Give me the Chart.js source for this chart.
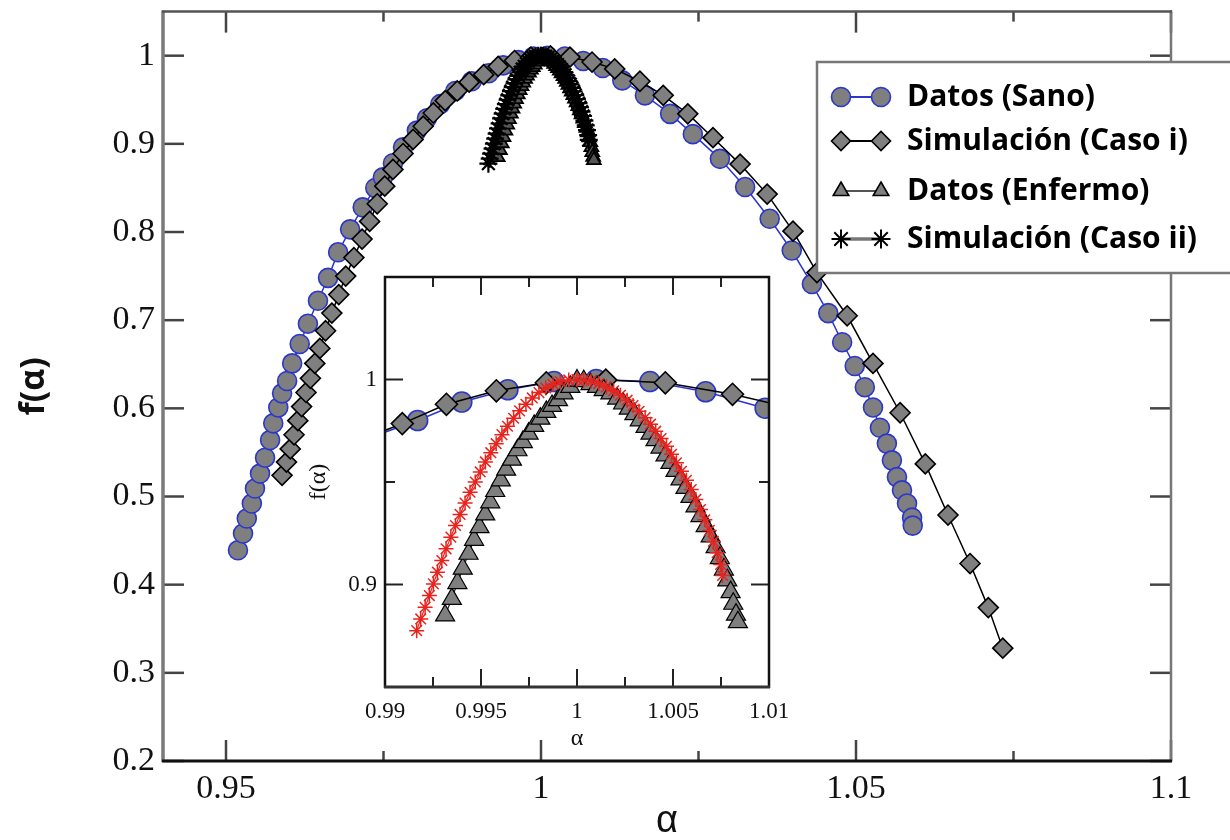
<!DOCTYPE html>
<html><head><meta charset="utf-8">
<script src="https://cdn.jsdelivr.net/npm/chart.js@4.4.1/dist/chart.umd.min.js"></script>
<style>
html,body{margin:0;padding:0;background:#fff;}
#wrap{position:relative;width:1230px;height:840px;overflow:hidden;background:#fff;}
#main{position:absolute;left:0;top:0;}
#inset{position:absolute;left:290px;top:255px;}
</style></head><body>
<div id="wrap"><canvas id="main" width="1230" height="840"></canvas><canvas id="inset" width="500" height="510"></canvas></div>
<script>
// ---- data ----
const seriesLabels = ['Datos (Sano)', 'Simulación (Caso i)', 'Datos (Enfermo)', 'Simulación (Caso ii)'];

const sanoAlpha = [0.9519,0.9527,0.9533,0.9541,0.9546,0.9554,0.9562,0.9570,0.9575,0.9583,0.9589,0.9597,0.9605,0.9617,0.9630,0.9646,0.9662,0.9678,0.9697,0.9717,0.9737,0.9749,0.9765,0.9781,0.9803,0.9819,0.9840,0.9864,0.9890,0.9917,0.9940,0.9964,0.9988,1.0010,1.0038,1.0067,1.0098,1.0129,1.0165,1.0205,1.0241,1.0284,1.0324,1.0363,1.0398,1.0430,1.0456,1.0478,1.0498,1.0514,1.0527,1.0538,1.0549,1.0557,1.0565,1.0573,1.0581,1.0589,1.0590];
const sanoF = [0.439,0.458,0.475,0.492,0.509,0.526,0.544,0.564,0.583,0.601,0.617,0.631,0.651,0.673,0.696,0.722,0.748,0.777,0.803,0.828,0.850,0.862,0.878,0.896,0.915,0.929,0.945,0.960,0.971,0.980,0.989,0.995,0.999,1.000,0.999,0.994,0.986,0.972,0.955,0.934,0.911,0.883,0.851,0.815,0.779,0.741,0.708,0.675,0.648,0.624,0.601,0.578,0.560,0.541,0.522,0.507,0.492,0.476,0.467];

const casoIAlpha = [0.9589,0.9596,0.9602,0.9608,0.9614,0.9620,0.9627,0.9634,0.9641,0.9649,0.9658,0.9668,0.9679,0.9690,0.9703,0.9716,0.9728,0.9740,0.9752,0.9765,0.9781,0.9797,0.9813,0.9829,0.9848,0.9867,0.9886,0.9909,0.9932,0.9958,0.9984,1.0015,1.0046,1.0081,1.0117,1.0157,1.0194,1.0233,1.0273,1.0316,1.0359,1.0400,1.0438,1.0486,1.0527,1.0570,1.0610,1.0646,1.0681,1.0710,1.0733];
const casoIF = [0.524,0.539,0.554,0.570,0.586,0.602,0.618,0.634,0.651,0.668,0.688,0.708,0.729,0.750,0.771,0.792,0.812,0.832,0.852,0.871,0.889,0.905,0.920,0.935,0.949,0.960,0.970,0.9785,0.9879,0.9945,0.9984,0.9997,0.9984,0.9928,0.985,0.971,0.955,0.934,0.907,0.877,0.843,0.801,0.754,0.705,0.651,0.595,0.537,0.479,0.424,0.374,0.328];

const enfermoAlpha = [0.99313,0.99348,0.99377,0.99405,0.99435,0.99464,0.99492,0.99522,0.99548,0.99574,0.99603,0.99631,0.99661,0.99690,0.99718,0.99748,0.99777,0.99809,0.99840,0.99870,0.99901,0.99930,0.99965,1.00000,1.00035,1.00070,1.00104,1.00139,1.00174,1.00209,1.00240,1.00270,1.00299,1.00327,1.00357,1.00383,1.00409,1.00435,1.00461,1.00487,1.00513,1.00539,1.00565,1.00591,1.00617,1.00643,1.00670,1.00696,1.00722,1.00744,1.00765,1.00783,1.00800,1.00814,1.00828,1.00838];
const enfermoF = [0.8849,0.8930,0.9007,0.9077,0.9150,0.9218,0.9280,0.9342,0.9401,0.9456,0.9508,0.9560,0.9609,0.9655,0.9695,0.9736,0.9774,0.9809,0.9842,0.9871,0.9899,0.9932,0.9964,0.9995,0.9992,0.9977,0.9964,0.9948,0.9932,0.9907,0.9883,0.9858,0.9831,0.9801,0.9769,0.9736,0.9704,0.9668,0.9630,0.9593,0.9554,0.9513,0.9471,0.9427,0.9381,0.9334,0.9285,0.9235,0.9182,0.9129,0.9073,0.9020,0.8963,0.8906,0.8853,0.8816];

const casoIIAlpha = [0.99165,0.99186,0.99209,0.99231,0.99252,0.99273,0.99296,0.99318,0.99343,0.99367,0.99391,0.99417,0.99443,0.99470,0.99496,0.99523,0.99551,0.99579,0.99609,0.99638,0.99670,0.99701,0.99734,0.99767,0.99802,0.99837,0.99875,0.99913,0.99957,1.00000,1.00035,1.00073,1.00113,1.00153,1.00191,1.00226,1.00261,1.00292,1.00323,1.00355,1.00383,1.00410,1.00438,1.00466,1.00492,1.00518,1.00544,1.00570,1.00595,1.00619,1.00643,1.00666,1.00689,1.00710,1.00730,1.00748,1.00758];
const casoIIF = [0.8775,0.8832,0.8889,0.8946,0.9003,0.9060,0.9117,0.9174,0.9231,0.9288,0.9342,0.9397,0.9450,0.9500,0.9549,0.9598,0.9643,0.9687,0.9731,0.9772,0.9811,0.9847,0.9879,0.9910,0.9936,0.9959,0.9977,0.9990,0.9998,1.0000,0.9997,0.9993,0.9980,0.9964,0.9945,0.9923,0.9899,0.9873,0.9845,0.9814,0.9782,0.9748,0.9712,0.9674,0.9635,0.9594,0.9552,0.9508,0.9463,0.9415,0.9366,0.9316,0.9264,0.9210,0.9155,0.9098,0.9044];

// tick labels
const mainXTicks = [0.95, 1, 1.05, 1.1];
const mainXMinor = [0.975, 1.025, 1.075];
const mainYTicks = [0.2, 0.3, 0.4, 0.5, 0.6, 0.7, 0.8, 0.9, 1];
const insetXTicks = [0.99, 0.995, 1, 1.005, 1.01];
const insetXMinor = [0.9925, 0.9975, 1.0025, 1.0075];
const insetYTicks = [0.9, 1];
const insetYMinor = [0.95];

// ---- styling ----
const GRAY = '#7f7f7f', BLUE = '#2b36cc', RED = '#e8231d';
function pts(a, f) { return a.map((v, i) => ({ x: v, y: f[i] })); }
const fmt = v => String(+Number(v).toFixed(4));

function datasets(inset) {
  return [
    { label: seriesLabels[0], data: pts(sanoAlpha, sanoF), showLine: true, order: 4,
      pointStyle: 'circle', pointRadius: inset ? 10 : 9.5, pointBackgroundColor: GRAY, pointBorderColor: BLUE,
      pointBorderWidth: 1.6, borderColor: BLUE, borderWidth: 1.5, backgroundColor: GRAY },
    { label: seriesLabels[1], data: pts(casoIAlpha, casoIF), showLine: true, order: 3,
      pointStyle: 'rectRot', pointRadius: inset ? 11 : 10, pointBackgroundColor: GRAY, pointBorderColor: '#000',
      pointBorderWidth: 1.6, borderColor: '#000', borderWidth: 1.5, backgroundColor: GRAY },
    { label: seriesLabels[2], data: pts(enfermoAlpha, enfermoF), showLine: true, order: 2,
      pointStyle: 'triangle', pointRadius: inset ? 11 : 8, pointBackgroundColor: inset ? GRAY : '#555', pointBorderColor: '#000',
      pointBorderWidth: inset ? 1.2 : 1.8, borderColor: '#222', borderWidth: 1.2, backgroundColor: GRAY },
    { label: seriesLabels[3], data: pts(casoIIAlpha, casoIIF), showLine: true, order: 1,
      pointStyle: 'star', pointRadius: inset ? 7.5 : 9, pointBackgroundColor: inset ? RED : '#000',
      pointBorderColor: inset ? RED : '#000', pointBorderWidth: inset ? 1.5 : 2.2, borderColor: inset ? RED : '#000',
      borderWidth: 1.2, backgroundColor: inset ? RED : '#000' }
  ];
}

function framePlugin(o) {
  return {
    id: 'frame_' + o.name,
    beforeDatasetsDraw(chart) {
      if (!o.fillArea) return;
      const { ctx, chartArea: a } = chart;
      ctx.save(); ctx.fillStyle = '#fff'; ctx.fillRect(a.left, a.top, a.right - a.left, a.bottom - a.top); ctx.restore();
    },
    afterDatasetsDraw(chart) {
      const { ctx, chartArea: a, scales: { x, y } } = chart;
      ctx.save();
      const line = (x1, y1, x2, y2, c, w) => { ctx.strokeStyle = c; ctx.lineWidth = w; ctx.beginPath(); ctx.moveTo(x1, y1); ctx.lineTo(x2, y2); ctx.stroke(); };
      o.xMajor.forEach(v => { const p = x.getPixelForValue(v); line(p, a.bottom, p, a.bottom - o.maj, o.tickColor, o.tickW); line(p, a.top, p, a.top + o.maj, o.tickColor, o.tickW); });
      o.xMinor.forEach(v => { const p = x.getPixelForValue(v); line(p, a.bottom, p, a.bottom - o.min, o.tickColor, o.tickW); line(p, a.top, p, a.top + o.min, o.tickColor, o.tickW); });
      o.yMajor.forEach(v => { const p = y.getPixelForValue(v); line(a.left, p, a.left + o.maj, p, o.tickColor, o.tickW); line(a.right, p, a.right - o.maj, p, o.tickColor, o.tickW); });
      o.yMinor.forEach(v => { const p = y.getPixelForValue(v); line(a.left, p, a.left + o.min, p, o.tickColor, o.tickW); line(a.right, p, a.right - o.min, p, o.tickColor, o.tickW); });
      line(a.left, a.top - 1, a.left, a.bottom + 1, o.leftC, o.leftW);
      line(a.right, a.top - 1, a.right, a.bottom + 1, o.rightC, o.rightW);
      line(a.left - 1, a.top, a.right + 1, a.top, o.topC, o.topW);
      line(a.left - 1, a.bottom, a.right + 1, a.bottom, o.botC, o.botW);
      ctx.restore();
    }
  };
}

const legendPlugin = {
  id: 'boxLegend',
  afterDraw(chart) {
    const ctx = chart.ctx;
    const bx = 817, by = 62, bw = 420, bh = 211;
    ctx.save();
    ctx.fillStyle = '#fff'; ctx.fillRect(bx, by, bw, bh);
    ctx.strokeStyle = '#777'; ctx.lineWidth = 2.5; ctx.strokeRect(bx, by, bw, bh);
    const rows = [97, 141, 191, 239];
    const ds = chart.data.datasets;
    const lineColors = [BLUE, '#000', '#555', '#777'];
    const lineWidths = [2, 2, 2, 3.5];
    const fills = [GRAY, GRAY, GRAY, '#000'];
    rows.forEach((ry, i) => {
      const d = ds[i];
      ctx.strokeStyle = lineColors[i]; ctx.lineWidth = lineWidths[i];
      ctx.beginPath(); ctx.moveTo(841, ry); ctx.lineTo(881, ry); ctx.stroke();
      [841, 881].forEach(px => {
        ctx.fillStyle = fills[i]; ctx.strokeStyle = d.pointBorderColor; ctx.lineWidth = i === 3 ? 2 : 1.6;
        Chart.helpers.drawPoint(ctx, { pointStyle: d.pointStyle, radius: i === 2 ? 9 : 9.5, rotation: 0, borderWidth: 1.6 }, px, ry);
      });
      ctx.fillStyle = '#000';
      ctx.font = 'bold 30px "Open Sans"';
      ctx.textBaseline = 'middle';
      ctx.fillText(d.label, 907, ry);
    });
    ctx.restore();
  }
};

function baseOpts(o) {
  return {
    responsive: false, animation: false, events: [],
    layout: { padding: o.padding },
    plugins: { legend: { display: false }, tooltip: { enabled: false } },
    scales: {
      x: { type: 'linear', min: o.xmin, max: o.xmax,
        grid: { display: false, drawTicks: false }, border: { display: false },
        afterFit: s => { s.height = o.xh; s.paddingLeft = 0; s.paddingRight = 0; },
        afterBuildTicks: s => { s.ticks = o.xt.map(v => ({ value: v })); },
        ticks: { callback: fmt, font: o.tickFont, color: '#111', padding: o.xpad, maxRotation: 0, autoSkip: false },
        title: { display: true, text: 'α', font: o.xTitleFont, color: '#111', padding: o.xTitlePad } },
      y: { type: 'linear', min: o.ymin, max: o.ymax,
        grid: { display: false, drawTicks: false }, border: { display: false },
        afterFit: s => { s.width = o.yw; s.paddingTop = 0; s.paddingBottom = 0; },
        afterBuildTicks: s => { s.ticks = o.yt.map(v => ({ value: v })); },
        ticks: { callback: fmt, font: o.tickFont, color: '#111', padding: o.ypad, autoSkip: false },
        title: { display: true, text: 'f(α)', font: o.yTitleFont, color: '#111', padding: o.yTitlePad } }
    }
  };
}

new Chart(document.getElementById('main'), {
  type: 'scatter',
  data: { datasets: datasets(false) },
  options: baseOpts({
    padding: { left: 0, top: 9, right: 59, bottom: 0 },
    xmin: 0.94, xmax: 1.1, ymin: 0.2, ymax: 1.05, xh: 79, yw: 163,
    xt: mainXTicks, yt: mainYTicks,
    tickFont: { family: '"Liberation Serif", serif', size: 34 },
    xpad: 8, ypad: 8,
    xTitleFont: { family: '"Liberation Sans", sans-serif', size: 38 }, xTitlePad: { top: 0, bottom: -4 },
    yTitleFont: { family: '"Open Sans", sans-serif', size: 34, weight: 'bold' }, yTitlePad: { top: 14, bottom: 0 }
  }),
  plugins: [framePlugin({ name: 'main', xMajor: mainXTicks, xMinor: mainXMinor, yMajor: mainYTicks, yMinor: [],
    maj: 21, min: 10, tickColor: '#444', tickW: 2.5,
    leftC: '#7a7a7a', leftW: 3.5, rightC: '#777', rightW: 2.5, topC: '#555', topW: 2.5, botC: '#111', botW: 3 }), legendPlugin]
});

new Chart(document.getElementById('inset'), {
  type: 'scatter',
  data: { datasets: datasets(true) },
  options: baseOpts({
    padding: { left: 0, top: 22, right: 21, bottom: 0 },
    xmin: 0.99, xmax: 1.01, ymin: 0.85, ymax: 1.05, xh: 78, yw: 95,
    xt: insetXTicks, yt: insetYTicks,
    tickFont: { family: '"Liberation Serif", serif', size: 23 },
    xpad: 11, ypad: 8,
    xTitleFont: { family: '"Liberation Serif", serif', size: 24 }, xTitlePad: { top: 0, bottom: 12 },
    yTitleFont: { family: '"Liberation Serif", serif', size: 24 }, yTitlePad: { top: 14, bottom: 0 }
  }),
  plugins: [framePlugin({ name: 'inset', fillArea: true, xMajor: insetXTicks, xMinor: insetXMinor, yMajor: insetYTicks, yMinor: insetYMinor,
    maj: 18, min: 10, tickColor: '#222', tickW: 2,
    leftC: '#111', leftW: 2.5, rightC: '#111', rightW: 2.5, topC: '#111', topW: 2.5, botC: '#333', botW: 3 })]
});
</script>
</body></html>
